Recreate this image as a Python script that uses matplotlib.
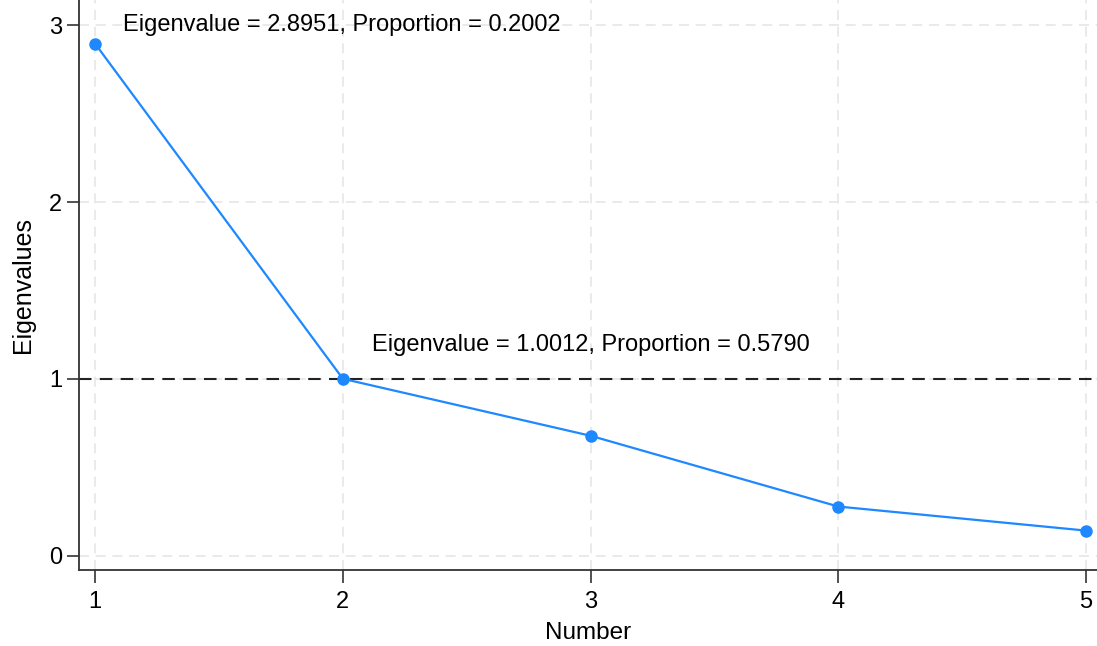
import matplotlib

matplotlib.use("Agg")

import matplotlib.pyplot as plt

plt.rcParams["font.family"] = ["Liberation Sans", "DejaVu Sans"]

numbers = [1, 2, 3, 4, 5]
eigenvalues = [2.8951, 1.0012, 0.679, 0.279, 0.143]
x_ticks = [1, 2, 3, 4, 5]
y_ticks = [0, 1, 2, 3]
notes = [
    (1, 2.8951, "Eigenvalue = 2.8951, Proportion = 0.2002"),
    (2, 1.0012, "Eigenvalue = 1.0012, Proportion = 0.5790"),
]

fig = plt.figure(figsize=(10.97, 6.46), dpi=100)
ax = fig.add_axes([0.072, 0.117, 0.928, 0.883])

ax.grid(True, color="#e6e6e6", linestyle=(0, (6, 4)), linewidth=1.2)
ax.set_axisbelow(True)
ax.axhline(1, color="#222222", linestyle=(0, (6, 4)), linewidth=1.5, zorder=2)
ax.plot(numbers, eigenvalues, color="#1e88ff", linewidth=1.6, marker="o",
        markersize=8, zorder=3)

ax.text(notes[0][0] + 0.113, 3.0, notes[0][2], fontsize=17, va="center", ha="left")
ax.text(notes[1][0] + 0.117, notes[1][1] + 0.193, notes[1][2], fontsize=17,
        va="center", ha="left")

ax.set_xlim(0.935, 5.044)
ax.set_ylim(-0.082, 3.142)
ax.set_xticks(x_ticks)
ax.set_yticks(y_ticks)
ax.tick_params(axis="both", labelsize=17, length=9, width=1.2, direction="out",
               color="#333333")
ax.tick_params(axis="x", pad=6)
ax.tick_params(axis="y", pad=3)
for side in ["top", "right"]:
    ax.spines[side].set_visible(False)
for side in ["left", "bottom"]:
    ax.spines[side].set_linewidth(1.3)
    ax.spines[side].set_color("#333333")
ax.set_xlabel("Number", fontsize=17.5, labelpad=6)
ax.set_ylabel("Eigenvalues", fontsize=18, labelpad=10)

fig.savefig("out.png", dpi=100)
plt.close(fig)
